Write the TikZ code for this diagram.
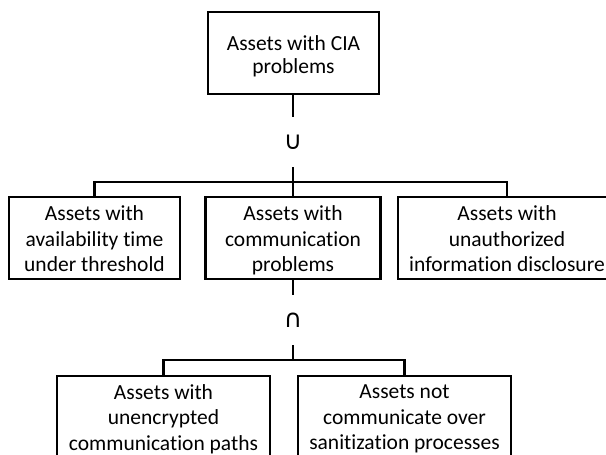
\documentclass[tikz,border=0pt]{standalone}
\usepackage{fontspec}
\setmainfont{Carlito}[RawFeature=-liga]
\newfontfamily\opfont{DejaVu Sans}
\newcommand{\lastline}{\vphantom{gh}}
\newcommand{\firstline}{\rule{0pt}{20pt}}
\begin{document}
\begin{tikzpicture}[x=1pt,y=-1pt,
  box/.style={draw, line width=2.1pt, inner sep=0pt, align=center,
    font=\fontsize{21.5}{25.5}\selectfont},
  link/.style={line width=2.1pt},
  op/.style={fill=white, inner sep=0pt, minimum height=50pt,
    font=\opfont\fontsize{25}{25}\selectfont}]
\useasboundingbox (0,0) rectangle (606,455);
\clip (0,0) rectangle (606,455);

% root set
\node[box, minimum width=171pt, minimum height=82pt,
  font=\fontsize{21.5}{23.5}\selectfont] (cia) at (293.5,53)
  {\rule{0pt}{22pt}Assets with CIA\\problems\lastline};

% union members
\node[box, minimum width=171pt, minimum height=82pt] (avail) at (94.5,238)
  {\firstline Assets with\\availability time\\under threshold\lastline};
\node[box, minimum width=175pt, minimum height=82pt] (comm) at (293,238)
  {\firstline Assets with\\communication\\problems\lastline};
\node[box, minimum width=218pt, minimum height=82pt] (disc) at (507,238)
  {\firstline Assets with\\unauthorized\\information disclosure\lastline};

% intersection members
\node[box, minimum width=213pt, minimum height=86pt,
  font=\fontsize{21.5}{25.5}\selectfont] (enc) at (163.5,419)
  {Assets with\\unencrypted\\communication paths\lastline};
\node[box, minimum width=213pt, minimum height=86pt,
  font=\fontsize{21.5}{25.5}\selectfont] (san) at (404.5,419)
  {Assets not\\communicate over\\sanitization processes\lastline};

% junctions
\coordinate (j1) at (293,182);
\coordinate (j2) at (293,360);

% union branch
\draw[link] (cia.south -| j1) -- (j1);
\draw[link] (avail.north) |- (j1) -| (disc.north);
\draw[link] (j1) -- (comm.north -| j1);
\node[op] (union) at (293,142) {∪};

% intersection branch
\draw[link] (comm.south -| j2) -- (j2);
\draw[link] (enc.north) |- (j2) -| (san.north);
\node[op] (inter) at (293,320) {∩};
\end{tikzpicture}
\end{document}
